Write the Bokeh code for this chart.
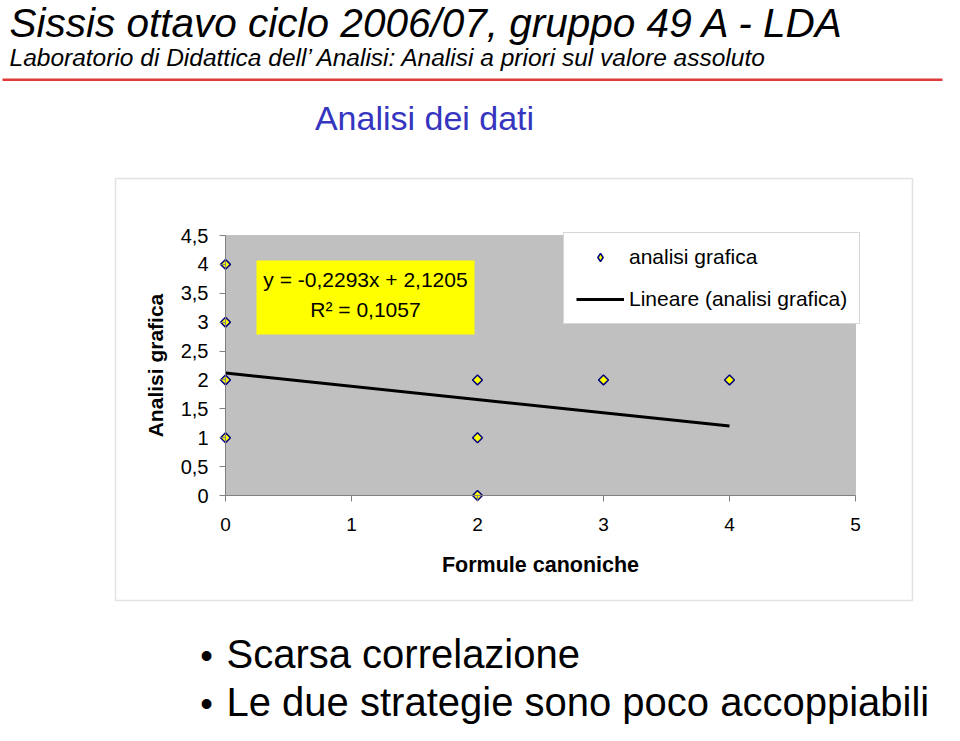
import math
from bokeh.plotting import figure
from bokeh.models import (Range1d, FixedTicker, Label, BoxAnnotation, Legend, LegendItem)
from bokeh.embed import file_html
from bokeh.resources import INLINE

# ---- data ----
formule_canoniche = [0, 0, 0, 0, 2, 2, 2, 3, 4]
analisi_grafica = [4, 3, 2, 1, 2, 1, 0, 2, 2]
trend_slope = -0.2293
trend_intercept = 2.1205
trend_x = [0, 4]
x_ticks = [0, 1, 2, 3, 4, 5]
y_ticks = [0, 0.5, 1, 1.5, 2, 2.5, 3, 3.5, 4, 4.5]
y_tick_labels = ["0", "0,5", "1", "1,5", "2", "2,5", "3", "3,5", "4", "4,5"]
x_tick_labels = ["0", "1", "2", "3", "4", "5"]

title_text = "Sissis ottavo ciclo 2006/07, gruppo 49 A - LDA"
subtitle_text = "Laboratorio di Didattica dell\u2019 Analisi: Analisi a priori sul valore assoluto"
section_text = "Analisi dei dati"
equation_text = "y = -0,2293x + 2,1205"
r2_text = "R\u00b2 = 0,1057"
bullets = ["Scarsa correlazione", "Le due strategie sono poco accoppiabili"]

FONT = "Liberation Sans"
W, H = 944, 725

# plot area placement on the canvas (pixels): x 0..5 -> 225..855, y 0..4.5 -> 495..235
PX0, PX1 = 225, 855
PY0, PY1 = 495, 235
XMAX, YMAX = 5.0, 4.5
kx = (PX1 - PX0) / XMAX
ky = (PY0 - PY1) / YMAX
x_range = Range1d((0 - PX0) / kx, (W - PX0) / kx)
y_range = Range1d((PY0 - H) / ky, (PY0 - 0) / ky)

def sx(px):
    return px
def sy(py):
    return H - py

p = figure(width=W, height=H, x_range=x_range, y_range=y_range,
           output_backend="svg", toolbar_location=None, min_border=0,
           background_fill_color="white", border_fill_color="white",
           outline_line_color=None)
p.title.visible = False
p.grid.visible = False

# gray plot area
p.add_layout(BoxAnnotation(left=0, right=XMAX, bottom=0, top=YMAX,
                           fill_color="#c0c0c0", fill_alpha=1,
                           line_color="#808080", line_width=1, level="underlay"))

# axes, fixed at the plot-area origin
xa = p.xaxis[0]
xa.fixed_location = 0
xa.bounds = (0, XMAX)
xa.ticker = FixedTicker(ticks=x_ticks)
xa.major_label_overrides = {t: l for t, l in zip(x_ticks, x_tick_labels)}
xa.minor_tick_line_color = None
xa.major_tick_in = 0
xa.major_tick_out = 6
xa.major_tick_line_color = "#808080"
xa.axis_line_color = "#808080"
xa.major_label_text_font = FONT
xa.major_label_text_font_size = "19px"
xa.major_label_text_color = "black"
xa.major_label_standoff = 16
xa.axis_label = "Formule canoniche"
xa.axis_label_text_font = FONT
xa.axis_label_text_font_size = "21.5px"
xa.axis_label_text_font_style = "bold"
xa.axis_label_text_color = "black"
xa.axis_label_standoff = 19

ya = p.yaxis[0]
ya.fixed_location = 0
ya.bounds = (0, YMAX)
ya.ticker = FixedTicker(ticks=y_ticks)
ya.major_label_overrides = {t: l for t, l in zip(y_ticks, y_tick_labels)}
ya.minor_tick_line_color = None
ya.major_tick_in = 0
ya.major_tick_out = 6
ya.major_tick_line_color = "#808080"
ya.axis_line_color = "#808080"
ya.major_label_text_font = FONT
ya.major_label_text_font_size = "20px"
ya.major_label_text_color = "black"
ya.major_label_standoff = 11
ya.axis_label = "Analisi grafica"
ya.axis_label_text_font = FONT
ya.axis_label_text_font_size = "21px"
ya.axis_label_text_font_style = "bold"
ya.axis_label_text_color = "black"
ya.axis_label_standoff = 11

# equation box
p.add_layout(BoxAnnotation(left=sx(256), right=sx(474), top=sy(260), bottom=sy(334),
                           left_units="screen", right_units="screen",
                           top_units="screen", bottom_units="screen",
                           fill_color="#ffff00", fill_alpha=1, line_color=None, level="underlay"))

# trend line and points
trend_y = [trend_slope * x + trend_intercept for x in trend_x]
r_line = p.line(trend_x, trend_y, line_color="black", line_width=3)
r_pts = p.scatter(formule_canoniche, analisi_grafica, marker="square", angle=math.pi / 4,
                  size=7, fill_color="#ffff00", line_color="#000080", line_width=1.5)
# legend key for the points (same data, hidden; shown as a diamond in the legend)
r_key = p.scatter(formule_canoniche, analisi_grafica, marker="diamond", size=12,
                  fill_color="#ffff00", line_color="#000080", line_width=1.5, visible=False)

legend = Legend(items=[LegendItem(label="analisi grafica", renderers=[r_key]),
                       LegendItem(label="Lineare (analisi grafica)", renderers=[r_line])],
                location=(sx(563), sy(324)),
                label_text_font=FONT, label_text_font_size="21px", label_text_color="black",
                glyph_width=48, glyph_height=20, label_standoff=5, spacing=18, padding=12,
                margin=0, border_line_color="#b0b0b0", border_line_width=1,
                background_fill_color="white", background_fill_alpha=1,
                inactive_fill_alpha=0)
p.add_layout(legend, "center")

# outer chart border
p.add_layout(BoxAnnotation(left=sx(115), right=sx(912), top=sy(178), bottom=sy(600),
                           left_units="screen", right_units="screen",
                           top_units="screen", bottom_units="screen",
                           fill_alpha=0, line_color="#a0a0a0", line_width=1.5))
# red rule under the header
p.add_layout(BoxAnnotation(left=sx(2), right=sx(942), top=sy(78), bottom=sy(80.5),
                           left_units="screen", right_units="screen",
                           top_units="screen", bottom_units="screen",
                           fill_color="#e03a3a", fill_alpha=1, line_color=None))

def add_text(px, baseline, text, size, color="black", style="normal", align="left"):
    # position by the visual centre of the line (baseline minus ~0.36 em)
    mid = baseline - 0.36 * size
    lab = Label(x=sx(px), y=sy(mid), x_units="screen", y_units="screen", text=text,
                text_font=FONT, text_font_size=f"{size}px", text_color=color,
                text_font_style=style, text_align=align, text_baseline="middle")
    p.add_layout(lab)

add_text(365, 287, equation_text, 21, align="center")
add_text(365, 317, r2_text, 21, align="center")
add_text(9, 37.5, title_text, 40.5, style="italic")
add_text(9, 66, subtitle_text, 24.5, style="italic")
add_text(424, 130, section_text, 34, color="#3535c0", align="center")
add_text(206, 668, "\u2022", 36, align="center")
add_text(226, 668, bullets[0], 40)
add_text(206, 716, "\u2022", 36, align="center")
add_text(226, 716, bullets[1], 40)

open("out.html", "w").write(file_html(p, INLINE))
